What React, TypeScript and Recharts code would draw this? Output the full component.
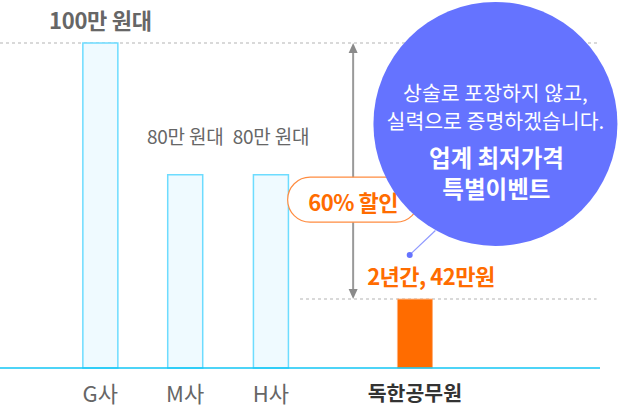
import React from "react";
import {
  ComposedChart,
  Bar,
  Cell,
  XAxis,
  YAxis,
  LabelList,
  ReferenceLine,
  ReferenceDot,
} from "recharts";

// categories, their slot along the axis, and bar heights
const names = ["G사", "M사", "H사", "독한공무원"];
const slots = [1.17, 2.16, 3.16, 4.84];
const heights = [100, 59.5, 59.5, 21.2];
const notes = ["100만 원대", "80만 원대", "80만 원대", "2년간, 42만원"];

const badgeText = "60% 할인";
const bubbleLines = ["상술로 포장하지 않고,", "실력으로 증명하겠습니다."];
const bubbleTitle = ["업계 최저가격", "특별이벤트"];

const FONT = "'Noto Sans CJK KR', 'Noto Sans', sans-serif";
const ORANGE = "#ff6c00";
const PURPLE = "#6573ff";

const data = names.map((name, i) => ({
  name,
  pos: slots[i],
  value: heights[i],
  note: notes[i],
}));

function BarNote(props: any) {
  const vb = props.viewBox ?? props;
  const { x, y, width } = vb;
  const { index, value } = props;
  const cx = x + width / 2;
  if (index === 0) {
    return (
      <text x={cx} y={y - 24} textAnchor="middle" dominantBaseline="central"
        fontFamily={FONT} fontSize={22} fontWeight={700} fill="#666" letterSpacing={-0.3}>
        {value}
      </text>
    );
  }
  if (index === 3) {
    return (
      <text x={cx + 16} y={y - 24} textAnchor="middle" dominantBaseline="central"
        fontFamily={FONT} fontSize={22} fontWeight={700} fill={ORANGE} letterSpacing={-0.5}>
        {value}
      </text>
    );
  }
  return (
    <text x={cx} y={y - 39} textAnchor="middle" dominantBaseline="central"
      fontFamily={FONT} fontSize={19} fill="#666" letterSpacing={-0.2}>
      {value}
    </text>
  );
}

function NameTick(props: any) {
  const { x, y, index } = props;
  const last = index === names.length - 1;
  return (
    <text x={x} y={y + 24} textAnchor="middle" dominantBaseline="central"
      fontFamily={FONT} fontSize={last ? 20.5 : 22} fontWeight={last ? 700 : 400}
      fill={last ? "#333" : "#666"}>
      {names[index]}
    </text>
  );
}

function Arrow(props: any) {
  const { x1, y1, x2, y2 } = props;
  return (
    <g>
      <line x1={x1} y1={y1 + 6} x2={x2} y2={y2 - 6} stroke="#999" strokeWidth={2} />
      <path d={`M${x1},${y1} L${x1 - 4.5},${y1 + 10} L${x1 + 4.5},${y1 + 10} Z`} fill="#8a8a8a" />
      <path d={`M${x2},${y2} L${x2 - 4.5},${y2 - 10} L${x2 + 4.5},${y2 - 10} Z`} fill="#8a8a8a" />
    </g>
  );
}

function Badge(props: any) {
  const { cx, cy } = props;
  return (
    <g>
      <rect x={cx - 65.5} y={cy - 22.5} width={131} height={45} rx={22.5}
        fill="#fff" stroke="#ff8c40" strokeWidth={1.2} />
      <text x={cx} y={cy + 1} textAnchor="middle" dominantBaseline="central"
        fontFamily={FONT} fontSize={22} fontWeight={700} fill={ORANGE} letterSpacing={-0.5}>
        {badgeText}
      </text>
    </g>
  );
}

function Bubble(props: any) {
  const { cx, cy } = props;
  return (
    <g>
      <circle cx={cx} cy={cy} r={122} fill={PURPLE} />
      <text textAnchor="middle" dominantBaseline="central" fontFamily={FONT} fontSize={20.5} fill="#fff">
        {bubbleLines.map((t, i) => (
          <tspan key={t} x={cx} y={cy - 31.5 + i * 27.5}>{t}</tspan>
        ))}
      </text>
      <text textAnchor="middle" dominantBaseline="central" fontFamily={FONT} fontSize={23.5}
        fontWeight={700} fill="#fff">
        {bubbleTitle.map((t, i) => (
          <tspan key={t} x={cx + 1} y={cy + 33 + i * 31}>{t}</tspan>
        ))}
      </text>
    </g>
  );
}

export default function App() {
  return (
    <div style={{ width: 618, height: 412, background: "#fff" }}>
      <style>{"body{margin:0}"}</style>
      <ComposedChart
        width={618}
        height={412}
        data={data}
        margin={{ top: 43, right: 18, bottom: 0, left: 0 }}
      >
        <XAxis
          type="number"
          dataKey="pos"
          domain={[0, 7]}
          ticks={slots}
          interval={0}
          height={44}
          tickLine={false}
          tickSize={0}
          tickMargin={0}
          axisLine={{ stroke: "#12c6f5", strokeWidth: 1.5 }}
          tick={(p: any) => <NameTick {...p} />}
        />
        <YAxis hide domain={[0, 100]} />
        <ReferenceLine y={100} stroke="#d9d9d9" strokeWidth={2} strokeDasharray="3 3" zIndex={0} />
        <ReferenceLine
          segment={[{ x: 3.5, y: 21.2 }, { x: 6.96, y: 21.2 }]}
          stroke="#d9d9d9"
          strokeWidth={2}
          strokeDasharray="3 3"
          zIndex={0}
        />
        <Bar dataKey="value" barSize={35} isAnimationActive={false}>
          {data.map((d, i) => (
            <Cell
              key={d.name}
              fill={i === 3 ? ORANGE : "#effaff"}
              stroke={i === 3 ? "#ffb07a" : "#6ddcff"}
              strokeWidth={i === 3 ? 1 : 1.5}
            />
          ))}
          <LabelList dataKey="note" content={(p: any) => <BarNote {...p} />} />
        </Bar>
        <ReferenceLine
          segment={[{ x: 4.12, y: 100 }, { x: 4.12, y: 21.2 }]}
          shape={(p: any) => <Arrow {...p} />}
          zIndex={700}
        />
        <ReferenceDot x={4.12} y={51.8} r={1} shape={(p: any) => <Badge {...p} />} zIndex={800} />
        <ReferenceLine
          segment={[{ x: 4.78, y: 34.8 }, { x: 5.08, y: 42.3 }]}
          stroke="#8f99ff"
          strokeWidth={1.2}
          zIndex={800}
        />
        <ReferenceDot x={4.78} y={34.8} r={3} fill={PURPLE} stroke="none" zIndex={800} />
        <ReferenceDot x={5.78} y={75.1} r={1} shape={(p: any) => <Bubble {...p} />} zIndex={2500} />
      </ComposedChart>
    </div>
  );
}
